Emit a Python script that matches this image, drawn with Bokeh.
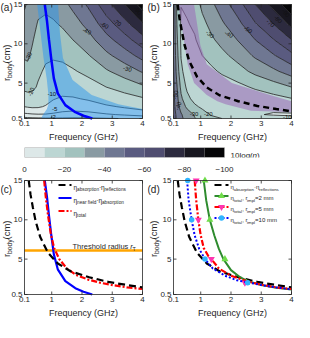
import numpy as np
from bokeh.plotting import figure
from bokeh.layouts import column, row
from bokeh.models import Range1d, Label, FixedTicker
from bokeh.core.properties import value
from bokeh.embed import file_html
from bokeh.resources import INLINE

FONT = "Liberation Sans"
AX = "#262626"

# ---------------- data ----------------
F_MIN, F_MAX = 0.1, 4.0
R_MIN, R_MAX = 0.5, 15.0
freq_ticks = [0.1, 1, 2, 3, 4]
freq_tick_labels = ["0.1", "1", "2", "3", "4"]
r_ticks = [0.5, 5, 10, 15]
r_tick_labels = ["0.5", "5", "10", "15"]

freq_grid = [0.1, 0.2, 0.35, 0.55, 0.8, 1.05, 1.35, 1.7, 2.2, 2.8, 3.4, 4.0]
rbody_grid = [0.5, 1, 2, 3, 4.5, 6.5, 8.5, 10.5, 12.5, 15]

# 10log(eta), panel (a): near field x absorption (rows: rbody, cols: freq)
eta_a = [
    [-1.2, -1.3, -1.4, -1.5, -1.6, -1.65, -1.65, -1.6, -1.6, -1.8, -2.1, -2.5],
    [-4.0, -4.2, -4.5, -4.7, -4.7, -4.4, -4.0, -3.7, -3.8, -4.6, -5.4, -6.3],
    [-10.0, -10.4, -10.8, -10.7, -9.5, -7.95, -6.8, -6.6, -7.2, -9.0, -10.7, -12.6],
    [-15.7, -16.2, -16.6, -15.2, -12.4, -10.3, -9.25, -9.35, -10.6, -13.4, -16.0, -18.9],
    [-22.3, -22.9, -22.3, -18.9, -15.3, -13.4, -12.7, -13.5, -15.7, -20.0, -23.9, -28.35],
    [-27.1, -27.7, -26.0, -21.8, -18.5, -17.3, -17.3, -19.0, -22.5, -28.8, -34.5, -41.0],
    [-31.0, -31.3, -28.7, -24.4, -21.7, -21.1, -21.9, -24.5, -29.3, -37.6, -45.1, -53.6],
    [-34.2, -34.1, -30.9, -26.9, -24.9, -24.9, -26.5, -30.0, -36.1, -46.4, -55.7, -66.2],
    [-37.3, -36.6, -33.0, -29.3, -28.0, -28.8, -31.1, -35.5, -42.9, -55.2, -66.3, -78.8],
    [-41.0, -39.1, -35.4, -32.4, -32.0, -33.6, -36.9, -42.4, -51.4, -66.2, -79.6, -94.5],
]
# 10log(eta), panel (b): absorption x reflections
eta_b = [
    [-57, -49, -42, -36, -30.5, -26.5, -23, -20, -17, -14.5, -13, -11.5],
    [-56, -48, -41, -35, -29, -24.5, -19, -15.5, -12.5, -10.5, -9.5, -9.3],
    [-54, -45, -36, -28, -22, -18, -14.5, -12, -10.2, -10, -11.5, -13],
    [-53, -44, -32, -23, -16.5, -13, -11, -10.3, -11.3, -13.8, -16.5, -19.5],
    [-52, -42, -27.5, -18, -13, -11.8, -12.5, -14.2, -17, -21.5, -25.5, -30],
    [-51, -38, -22, -15, -13.6, -15.5, -18, -21.5, -26, -32.5, -38, -44.5],
    [-50, -35, -19.5, -15.5, -16.3, -20, -23.5, -27.5, -33, -41.5, -49, -57.5],
    [-50, -33, -18.5, -17.2, -19, -24.5, -28.5, -33, -40, -50, -59.5, -70],
    [-50, -31, -18.8, -19.2, -21.8, -27.5, -32.5, -38.5, -46.5, -59, -70, -82.5],
    [-50, -30, -20.2, -22, -25.5, -32, -38, -45, -55, -70, -83.5, -98],
]
fill_levels = [-100, -90, -80, -70, -60, -50, -40, -30, -20, -10, 0]
extra_levels = [-5, -2]
palette = ["#050507", "#17161f", "#2c2a3e", "#4f4d70", "#5a5b80",
           "#6f7792", "#899aa2", "#a2c2be", "#bcd6d3", "#dde8e8"]

# optimum curves and near-optimum bands
band_a_r = [0.5, 0.9, 1.7, 2.3, 3.5, 5.4, 8.2, 11.4, 15]
band_a_lo = [0.65, 0.7, 0.84, 0.89, 0.89, 0.84, 0.73, 0.63, 0.52]
band_a_hi = [4.0, 4.0, 4.0, 3.2, 2.32, 1.69, 1.37, 1.27, 1.21]
band_b_r = [1.3, 1.5, 2.3, 2.7, 3.5, 5.0, 7.4, 9.8, 15]
band_b_lo = [4.0, 2.66, 1.82, 1.55, 1.2, 0.78, 0.57, 0.47, 0.26]
band_b_hi = [4.0, 4.0, 4.0, 4.0, 3.29, 2.03, 1.2, 0.99, 0.78]

opt_nf_abs_f = [0.77, 0.84, 0.91, 0.98, 1.07, 1.2, 1.45, 1.78, 2.05, 2.34]
opt_nf_abs_r = [15, 13, 10.5, 8.2, 5.6, 3.7, 2.2, 1.3, 0.85, 0.5]
opt_abs_refl_f = [0.24, 0.3, 0.38, 0.47, 0.62, 0.88, 1.2, 1.62, 2.24, 2.87, 3.5, 4.0]
opt_abs_refl_r = [15, 13.2, 11.5, 9.8, 7.8, 5.8, 4.45, 3.45, 2.7, 2.1, 1.7, 1.4]
opt_total_f = [0.75, 0.8, 0.88, 0.97, 1.08, 1.25, 1.5, 1.8, 2.2, 2.6, 3.0, 3.5, 4.0]
opt_total_r = [15, 13, 10.5, 8.2, 6.4, 5, 3.8, 3.0, 2.4, 2.0, 1.7, 1.4, 1.2]
threshold_r = 6.1

impl2_f = [1.1, 1.18, 1.3, 1.45, 1.6, 1.75, 2.0, 2.3, 2.55, 3.0, 3.5, 4.0]
impl2_r = [15, 12.5, 10, 8, 6.3, 5, 3.6, 2.7, 2.2, 1.7, 1.35, 1.15]
impl5_f = [0.8, 0.85, 0.92, 1.0, 1.1, 1.25, 1.35, 1.6, 2.0, 2.5, 3.0, 3.5, 4.0]
impl5_r = [15, 12.5, 10, 8, 6.4, 5.4, 5.0, 3.8, 2.9, 2.2, 1.75, 1.4, 1.2]
impl10_f = [0.55, 0.6, 0.7, 0.8, 0.95, 1.14, 1.4, 1.8, 2.2, 2.55, 3.0, 3.5, 4.0]
impl10_r = [15, 12.5, 10, 8, 6.3, 5, 3.8, 2.9, 2.3, 2.05, 1.7, 1.4, 1.15]
mark_r = [15, 10, 5, 2]
impl2_mark_f = [1.14, 1.3, 1.8, 2.52]
impl5_mark_f = [0.85, 0.92, 1.35, 2.46]
impl10_mark_f = [0.57, 0.7, 1.14, 2.55]

cb_ticks = [0, -20, -40, -60, -80, -100]

# contour level labels: (freq, rbody, text, angle in degrees)
labels_a = [(3.84, 14.2, "-90", -50), (3.16, 12.7, "-70", -35), (2.74, 12.35, "-60", -30),
            (2.16, 11.6, "-40", -25), (3.5, 6.8, "-30", -12), (0.24, 8.4, "-30", 70),
            (0.32, 3.9, "-20", 70), (1.0, 3.6, "-10", 0), (1.1, 1.7, "-5", 0), (1.05, 0.75, "-2", 0)]
labels_b = [(3.81, 13.9, "-90", -50), (3.55, 13.1, "-80", -45), (3.3, 12.6, "-70", -40),
            (2.56, 11.8, "-50", -30), (1.93, 11.2, "-40", -30), (1.3, 11.2, "-30", -40),
            (0.17, 3.5, "-50", 80), (0.26, 2.1, "-40", 70), (0.78, 1.1, "-30", 0),
            (1.25, 1.1, "-20", 0), (3.86, 0.7, "-10", 0)]

# ---------------- helpers ----------------
W_TABLE = {}
for ch in "ilj.,:;|'!":
    W_TABLE[ch] = 0.222
for ch in "frt -()·":
    W_TABLE[ch] = 0.3
for ch in "ckszvxy":
    W_TABLE[ch] = 0.5
W_TABLE["m"] = 0.833
W_TABLE["w"] = 0.722
W_TABLE["="] = 0.584
W_TABLE["T"] = 0.611


def tw(s, size):
    return sum(W_TABLE.get(c, 0.556) for c in s) * size


def rich(p, x, y, parts, size, angle=0.0, kx=1.0, ky=1.0, anchor="left", color=AX, units="data"):
    """Text with subscripts, built from several pieces; offsets in px converted by kx, ky."""
    def fs_of(k):
        return size * 0.72 if k == "s" else size
    total = sum(tw(t, fs_of(k)) for t, k in parts)
    pos = -total / 2 if anchor == "center" else 0.0
    for t, k in parts:
        fs = fs_of(k)
        w = tw(t, fs)
        drop = size * 0.3 if k == "s" else 0.0
        style = "italic" if k == "i" else "normal"
        if angle == 0:
            p.add_layout(Label(x=x + pos * kx, y=y - drop * ky, x_units=units, y_units=units,
                               text=t, text_font=FONT, text_font_size=f"{fs:.1f}px",
                               text_color=color, text_baseline="alphabetic", text_align="left",
                               text_font_style=style))
        else:
            # rotated pieces drawn as text glyphs, each anchored at its own centre
            cx = drop - 0.35 * fs
            p.text(x=[x + cx * kx], y=[y + (pos + w / 2) * ky], text=[t], angle=angle,
                   text_align="center", text_baseline="middle", text_font=value(FONT),
                   text_font_size=f"{fs:.1f}px", text_color=color, text_font_style=style)
        pos += w


FW, FH = 118, 114
BOT = 26
KX = (F_MAX - F_MIN) / FW
KY = (R_MAX - R_MIN) / FH


def panel(left, right, top):
    w = left + FW + right
    h = top + FH + BOT
    p = figure(width=w, height=h,
               x_range=Range1d(F_MIN - left * KX, F_MAX + right * KX),
               y_range=Range1d(R_MIN - BOT * KY, R_MAX + top * KY),
               x_axis_type=None, y_axis_type=None, output_backend="svg", toolbar_location=None,
               min_border_left=0, min_border_right=0, min_border_top=0, min_border_bottom=0)
    p.outline_line_color = None
    p.grid.visible = False
    return p


def decorate(p, left, letter, letter_dy):
    # frame box
    p.quad(left=[F_MIN], right=[F_MAX], bottom=[R_MIN], top=[R_MAX], fill_color=None,
           line_color=AX, line_width=0.8)
    # inward ticks (all four sides, as in a boxed axes)
    p.segment(x0=freq_ticks, y0=R_MIN, x1=freq_ticks, y1=R_MIN + 3 * KY, line_color=AX, line_width=0.8)
    p.segment(x0=freq_ticks, y0=R_MAX, x1=freq_ticks, y1=R_MAX - 3 * KY, line_color=AX, line_width=0.8)
    p.segment(x0=F_MIN, y0=r_ticks, x1=F_MIN + 3 * KX, y1=r_ticks, line_color=AX, line_width=0.8)
    p.segment(x0=F_MAX, y0=r_ticks, x1=F_MAX - 3 * KX, y1=r_ticks, line_color=AX, line_width=0.8)
    # tick labels
    p.text(x=freq_ticks, y=R_MIN - 2 * KY, text=freq_tick_labels, text_align="center",
           text_baseline="top", text_font=value(FONT), text_font_size="8px", text_color=AX)
    p.text(x=F_MIN - 2 * KX, y=r_ticks, text=r_tick_labels, text_align="right",
           text_baseline="middle", text_font=value(FONT), text_font_size="8px", text_color=AX)
    # axis titles
    p.text(x=(F_MIN + F_MAX) / 2, y=R_MIN - 13 * KY, text=["Frequency (GHz)"], text_align="center",
           text_baseline="top", text_font=value(FONT), text_font_size="9px", text_color=AX)
    rich(p, F_MIN - (left - 9) * KX, (R_MIN + R_MAX) / 2, [("r", "n"), ("body", "s"), (" (cm)", "n")],
         9.5, angle=np.pi / 2, kx=KX, ky=KY, anchor="center")
    # panel letter
    p.add_layout(Label(x=F_MIN - left * KX, y=R_MAX + letter_dy * KY, text=letter, text_font=FONT,
                       text_font_size="10px", text_color=AX, text_align="left", text_baseline="top"))


def contour_panel(p, z):
    zz = np.array(z)
    p.contour(x=freq_grid, y=rbody_grid, z=zz, levels=fill_levels, fill_color=palette,
              line_color="#141414", line_width=0.75)
    p.contour(x=freq_grid, y=rbody_grid, z=zz, levels=extra_levels,
              line_color="#141414", line_width=0.75)


def level_labels(p, labels):
    for fx, ry, t, ang in labels:
        p.add_layout(Label(x=fx, y=ry, text=t, angle=np.deg2rad(ang), text_font=FONT,
                           text_font_size="6px", text_color="#111111",
                           text_align="center", text_baseline="middle"))


def legend_sample(p, x0_px, x1_px, yc_px, **style):
    xs = [F_MIN + x0_px * KX, F_MIN + x1_px * KX]
    ys = [R_MAX - yc_px * KY] * 2
    p.line(xs, ys, **style)


def legend_marker(p, x_px, yc_px, **style):
    p.scatter([F_MIN + x_px * KX], [R_MAX - yc_px * KY], **style)


STY_BLACK = dict(line_color="black", line_width=2.2, line_dash="7 4")
STY_BLUE = dict(line_color="#0000ff", line_width=2.2)
STY_RED = dict(line_color="#ff0000", line_width=2.2, line_dash="6 2 2 2")
STY_GREEN = dict(line_color="#2e8b2e", line_width=2.0)
STY_DOT = dict(line_color="#0000ff", line_width=2.0, line_dash="2 2")
MK_UP = dict(marker="triangle", size=7, fill_color="#6fdc4a", line_color=None)
MK_DOWN = dict(marker="inverted_triangle", size=7, fill_color="#ff33b0", line_color=None)
MK_DOT = dict(marker="circle", size=5.5, fill_color="#2fb4ff", line_color=None)

# ---------------- panel (a) ----------------
LA, RA, LB, RB = 24, 5, 26, 3
fa = panel(LA, RA, 4)
contour_panel(fa, eta_a)
fa.harea(x1=band_a_lo, x2=band_a_hi, y=band_a_r, fill_color="#2a95ee", fill_alpha=0.5)
fa.line(opt_nf_abs_f, opt_nf_abs_r, line_color="#0000ff", line_width=2.5)
level_labels(fa, labels_a)
decorate(fa, LA, "(a)", 3)

# ---------------- panel (b) ----------------
fb = panel(LB, RB, 4)
contour_panel(fb, eta_b)
fb.harea(x1=band_b_lo, x2=band_b_hi, y=band_b_r, fill_color="#9a6ab8", fill_alpha=0.55)
fb.line(opt_abs_refl_f, opt_abs_refl_r, line_color="black", line_width=2.5, line_dash="6 4")
level_labels(fb, labels_b)
decorate(fb, LB, "(b)", 3)

# ---------------- colorbar ----------------
fcb = figure(width=294, height=30, x_range=Range1d(0, -135), y_range=Range1d(0, 1),
             output_backend="svg", toolbar_location=None,
             min_border_left=24, min_border_right=0, min_border_top=3, min_border_bottom=16)
fcb.grid.visible = False
fcb.yaxis.visible = False
fcb.outline_line_color = None
cb_colors = list(reversed(palette))
lev_desc = list(reversed(fill_levels))
fcb.quad(left=lev_desc[:-1], right=lev_desc[1:], bottom=0, top=1, fill_color=cb_colors, line_color=None)
fcb.quad(left=[lev_desc[0]], right=[lev_desc[-1]], bottom=0, top=1, fill_color=None,
         line_color="#9a9a9a", line_width=0.8)
fcb.xaxis.ticker = FixedTicker(ticks=cb_ticks)
fcb.xaxis.axis_line_color = None
fcb.xaxis.major_tick_line_color = None
fcb.xaxis.minor_tick_line_color = None
fcb.xaxis.major_label_text_font = FONT
fcb.xaxis.major_label_text_font_size = "8px"
fcb.xaxis.major_label_text_color = AX
fcb.xaxis.major_label_standoff = 3
rich(fcb, 206, 2.5, [("10log(", "n"), ("η", "i"), (")", "n")], 8, units="screen")

# ---------------- panel (c) ----------------
fc = panel(LA, RA, 6)
fc.segment(x0=F_MIN, x1=F_MAX, y0=threshold_r, y1=threshold_r, line_color="#ffa500", line_width=2.5)
fc.line(opt_nf_abs_f, opt_nf_abs_r, **STY_BLUE)
fc.line(opt_total_f, opt_total_r, **STY_RED)
fc.line(opt_abs_refl_f, opt_abs_refl_r, **STY_BLACK)
legend_sample(fc, 34, 47, 4.5, **STY_BLACK)
legend_sample(fc, 34, 47, 17.5, **STY_BLUE)
legend_sample(fc, 34, 47, 30.5, **STY_RED)
LS = 6.5
rich(fc, F_MIN + 49 * KX, R_MAX - 6.7 * KY, [("η", "n"), ("absorption", "s"), ("·η", "n"), ("reflections", "s")], LS, kx=KX, ky=KY)
rich(fc, F_MIN + 49 * KX, R_MAX - 19.7 * KY, [("η", "n"), ("near field", "s"), ("·η", "n"), ("absorption", "s")], LS, kx=KX, ky=KY)
rich(fc, F_MIN + 49 * KX, R_MAX - 32.7 * KY, [("η", "n"), ("total", "s")], LS, kx=KX, ky=KY)
rich(fc, F_MIN + 48 * KX, threshold_r + 4 * KY, [("Threshold radius ", "n"), ("r", "i"), ("T", "s")], 7.5, kx=KX, ky=KY)
decorate(fc, LA, "(c)", -3)

# ---------------- panel (d) ----------------
fd = panel(LB, RB, 6)
fd.line(opt_abs_refl_f, opt_abs_refl_r, **STY_BLACK)
fd.line(impl2_f, impl2_r, **STY_GREEN)
fd.scatter(impl2_mark_f, mark_r, **MK_UP)
fd.line(impl5_f, impl5_r, **STY_RED)
fd.scatter(impl5_mark_f, mark_r, **MK_DOWN)
fd.line(impl10_f, impl10_r, **STY_DOT)
fd.scatter(impl10_mark_f, mark_r, **MK_DOT)
legend_sample(fd, 41, 55, 4.5, **STY_BLACK)
legend_sample(fd, 41, 55, 15.5, **STY_GREEN)
legend_marker(fd, 48, 15.5, **MK_UP)
legend_sample(fd, 41, 55, 26.5, **STY_RED)
legend_marker(fd, 48, 26.5, **MK_DOWN)
legend_sample(fd, 41, 55, 37.5, **STY_DOT)
legend_marker(fd, 48, 37.5, **MK_DOT)
LX = F_MIN + 57 * KX
rich(fd, LX, R_MAX - 6.7 * KY, [("η", "n"), ("absorption", "s"), ("·η", "n"), ("reflections", "s")], 6, kx=KX, ky=KY)
rich(fd, LX, R_MAX - 17.7 * KY, [("η", "n"), ("total", "s"), (", r", "n"), ("impl", "s"), ("=2 mm", "n")], 6, kx=KX, ky=KY)
rich(fd, LX, R_MAX - 28.7 * KY, [("η", "n"), ("total", "s"), (", r", "n"), ("impl", "s"), ("=5 mm", "n")], 6, kx=KX, ky=KY)
rich(fd, LX, R_MAX - 39.7 * KY, [("η", "n"), ("total", "s"), (", r", "n"), ("impl", "s"), ("=10 mm", "n")], 6, kx=KX, ky=KY)
decorate(fd, LB, "(d)", -3)

layout = column(row(fa, fb), fcb, row(fc, fd))
open("out.html", "w").write(file_html(layout, INLINE))
